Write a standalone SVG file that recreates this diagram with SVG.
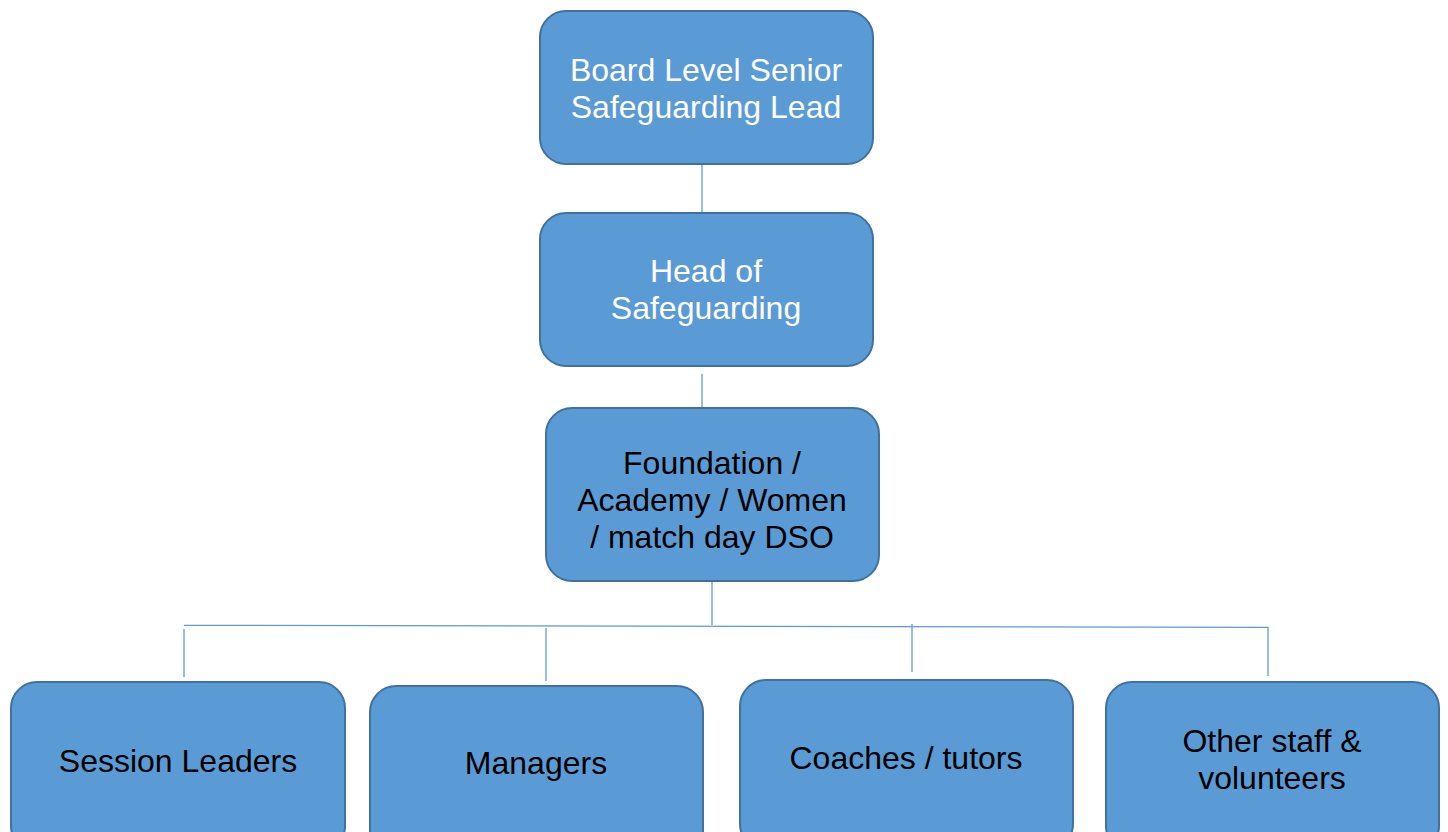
<svg xmlns="http://www.w3.org/2000/svg" width="1448" height="832" viewBox="0 0 1448 832">
<style>
.box{fill:#5B9BD5;stroke:#41719C;stroke-width:2}
.t{font-family:"Liberation Sans",Arial,sans-serif;font-size:32px;text-anchor:middle}
.w{fill:#FFFFFF}
.k{fill:#000000}
.c{stroke:#5B9BD5;stroke-width:1.3;fill:none}
</style>
<rect width="1448" height="832" fill="#FFFFFF"/>
<g id="connectors">
<line class="c" x1="702" y1="165" x2="702" y2="212"/>
<line class="c" x1="702" y1="374" x2="702" y2="408"/>
<line class="c" x1="712" y1="581" x2="712" y2="625"/>
<line class="c" x1="184" y1="625.3" x2="1268" y2="627.3"/>
<line class="c" x1="184" y1="629" x2="184" y2="677"/>
<line class="c" x1="546" y1="628" x2="546" y2="681"/>
<line class="c" x1="912" y1="624" x2="912" y2="672"/>
<line class="c" x1="1268" y1="627" x2="1268" y2="676"/>
</g>
<g id="node-board">
<rect class="box" x="540" y="11" width="333" height="153" rx="26"/>
<text class="t w" x="706" y="81">Board Level Senior</text>
<text class="t w" x="706" y="118">Safeguarding Lead</text>
</g>
<g id="node-head">
<rect class="box" x="540" y="213" width="333" height="153" rx="26"/>
<text class="t w" x="706" y="282">Head of</text>
<text class="t w" x="706" y="319">Safeguarding</text>
</g>
<g id="node-dso">
<rect class="box" x="546" y="408" width="333" height="173" rx="26"/>
<text class="t k" x="712" y="474">Foundation /</text>
<text class="t k" x="712" y="511">Academy / Women</text>
<text class="t k" x="712" y="548">/ match day DSO</text>
</g>
<g id="node-session">
<rect class="box" x="11" y="682" width="334" height="170" rx="26"/>
<text class="t k" x="178" y="772">Session Leaders</text>
</g>
<g id="node-managers">
<rect class="box" x="370" y="686" width="333" height="170" rx="26"/>
<text class="t k" x="536" y="774">Managers</text>
</g>
<g id="node-coaches">
<rect class="box" x="740" y="680" width="333" height="170" rx="26"/>
<text class="t k" x="906" y="769">Coaches / tutors</text>
</g>
<g id="node-other">
<rect class="box" x="1106" y="682" width="333" height="170" rx="26"/>
<text class="t k" x="1272" y="752">Other staff &amp;</text>
<text class="t k" x="1272" y="789">volunteers</text>
</g>
</svg>
